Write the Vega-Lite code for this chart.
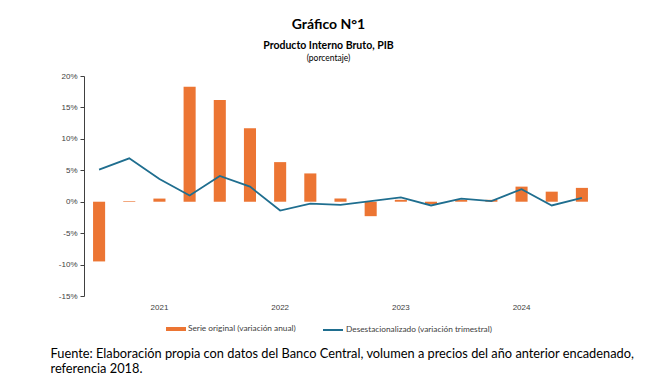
{
  "$schema": "https://vega.github.io/schema/vega-lite/v6.json",
  "width": 513,
  "height": 220,
  "autosize": {"type": "none"},
  "padding": {"left": 84, "top": 76, "right": 66, "bottom": 92},
  "background": "white",
  "title": {
    "text": "Gráfico N°1",
    "subtitle": "Producto Interno Bruto, PIB",
    "anchor": "middle",
    "frame": "group",
    "dx": -12,
    "offset": 2,
    "font": "Lato",
    "fontSize": 14,
    "fontWeight": "bold",
    "color": "#000000",
    "subtitleFont": "Lato",
    "subtitleFontSize": 10.5,
    "subtitleFontWeight": "bold",
    "subtitleColor": "#000000",
    "subtitlePadding": 9
  },
  "config": {
    "view": {"stroke": null},
    "axis": {"grid": false, "labelOverlap": false},
    "axisY": {"labelOverlap": false, "labelBound": false}
  },
  "data": {
    "values": [
      {"q": "2020-T3", "anual": -9.5, "trimestral": 5.1},
      {"q": "2020-T4", "anual": 0.1, "trimestral": 6.9},
      {"q": "2021-T1", "anual": 0.5, "trimestral": 3.6},
      {"q": "2021-T2", "anual": 18.3, "trimestral": 1.0},
      {"q": "2021-T3", "anual": 16.2, "trimestral": 4.1},
      {"q": "2021-T4", "anual": 11.7, "trimestral": 2.4},
      {"q": "2022-T1", "anual": 6.3, "trimestral": -1.4},
      {"q": "2022-T2", "anual": 4.5, "trimestral": -0.3},
      {"q": "2022-T3", "anual": 0.5, "trimestral": -0.5},
      {"q": "2022-T4", "anual": -2.3, "trimestral": 0.1},
      {"q": "2023-T1", "anual": 0.3, "trimestral": 0.7},
      {"q": "2023-T2", "anual": -0.4, "trimestral": -0.6},
      {"q": "2023-T3", "anual": 0.3, "trimestral": 0.5},
      {"q": "2023-T4", "anual": 0.3, "trimestral": 0.1},
      {"q": "2024-T1", "anual": 2.4, "trimestral": 2.0},
      {"q": "2024-T2", "anual": 1.6, "trimestral": -0.6},
      {"q": "2024-T3", "anual": 2.2, "trimestral": 0.6}
    ]
  },
  "encoding": {
    "x": {
      "field": "q",
      "type": "ordinal",
      "sort": null,
      "scale": {"type": "band", "paddingInner": 0, "paddingOuter": 0},
      "axis": {
        "domain": false,
        "ticks": false,
        "labelAngle": 0,
        "labelOverlap": false,
        "labelExpr": "slice(datum.value, 5) == 'T1' ? slice(datum.value, 0, 4) : ''",
        "labelFont": "Liberation Sans",
        "labelFontSize": 8,
        "labelColor": "#404040",
        "labelPadding": 7,
        "title": ["Fuente: Elaboración propia con datos del Banco Central, volumen a precios del año anterior encadenado,", "referencia 2018."],
        "titleX": -34,
        "titleY": 51,
        "titleAlign": "left",
        "titleAnchor": "start",
        "titleAngle": 0,
        "titleBaseline": "top",
        "titleFont": "Lato",
        "titleFontSize": 12.8,
        "titleFontWeight": "normal",
        "titleColor": "#000000",
        "titleLineHeight": 15
      }
    },
    "y": {
      "type": "quantitative",
      "scale": {"domain": [-15, 20], "nice": false},
      "axis": {
        "values": [-15, -10, -5, 0, 5, 10, 15, 20],
        "labelExpr": "datum.value + '%'",
        "labelOverlap": false,
        "labelFont": "Liberation Sans",
        "labelFontSize": 8,
        "labelColor": "#404040",
        "labelPadding": 3,
        "tickSize": 4,
        "tickColor": "#404040",
        "domainColor": "#404040",
        "title": "(porcentaje)",
        "titleAngle": 0,
        "titleAlign": "center",
        "titleBaseline": "alphabetic",
        "titleX": 244,
        "titleY": -16,
        "titleFont": "Lato",
        "titleFontSize": 8.5,
        "titleFontWeight": "normal",
        "titleColor": "#000000"
      }
    }
  },
  "layer": [
    {
      "mark": {"type": "bar", "width": {"band": 0.4}},
      "encoding": {
        "y": {"field": "anual"},
        "color": {
          "datum": "Serie original (variación anual)",
          "scale": {"range": ["#EC7533"]},
          "legend": {
            "orient": "none",
            "legendX": 82,
            "legendY": 243,
            "title": null,
            "padding": 0,
            "symbolType": "M-1,-0.2H1V0.2H-1Z",
            "symbolSize": 400,
            "symbolStrokeWidth": 0,
            "symbolOpacity": 1,
            "labelFont": "Lato",
            "labelFontSize": 8.3,
            "labelColor": "#404040",
            "labelOffset": 2
          }
        }
      }
    },
    {
      "mark": {"type": "rule", "color": "#404040", "strokeWidth": 1.5},
      "encoding": {"y": {"datum": 0}}
    },
    {
      "mark": {"type": "line", "strokeWidth": 1.8},
      "encoding": {
        "y": {"field": "trimestral"},
        "stroke": {
          "datum": "Desestacionalizado (variación trimestral)",
          "scale": {"range": ["#1F6E8F"]},
          "legend": {
            "orient": "none",
            "legendX": 238,
            "legendY": 243,
            "title": null,
            "padding": 0,
            "symbolType": "stroke",
            "symbolSize": 400,
            "symbolStrokeWidth": 2,
            "labelFont": "Lato",
            "labelFontSize": 8.3,
            "labelColor": "#404040",
            "labelOffset": 2
          }
        }
      }
    }
  ]
}
